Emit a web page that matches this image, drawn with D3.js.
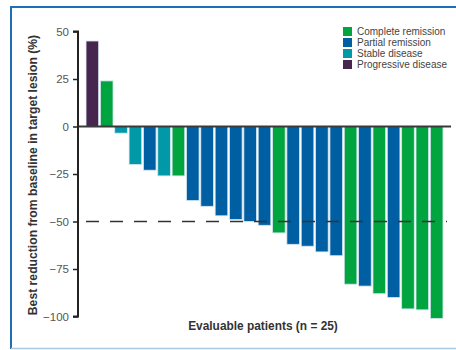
<!DOCTYPE html>
<html>
<head>
<meta charset="utf-8">
<script src="https://cdn.jsdelivr.net/npm/d3@7"></script>
<style>
  html, body { margin: 0; padding: 0; background: #fff; }
  svg { display: block; }
</style>
</head>
<body>
<svg id="chart" width="456" height="350"></svg>
<script>
// Best response per evaluable patient (% change in target lesion)
const patients = d3.range(1, 26).map(String);
const reduction = [45, 24, -3.5, -20, -23, -26, -26, -39, -42, -47, -49, -50, -52, -56,
                   -62, -63, -66, -68, -83, -84, -88, -90, -96, -96.5, -101];
const response = ["PD", "CR", "SD", "SD", "PR", "SD", "CR", "PR", "PR", "PR", "PR", "PR", "PR", "CR",
                  "PR", "PR", "PR", "PR", "CR", "PR", "CR", "PR", "CR", "CR", "CR"];
const responseKeys = ["CR", "PR", "SD", "PD"];
const responseNames = ["Complete remission", "Partial remission", "Stable disease", "Progressive disease"];
const yTicks = [50, 25, 0, -25, -50, -75, -100];
const threshold = -50;

const colour = d3.scaleOrdinal()
  .domain(responseKeys)
  .range(["#00a540", "#005fa3", "#0199a8", "#46264f"]);

const svg = d3.select("#chart");

// figure frame
svg.append("path")
  .attr("d", "M11,349 V7 H460")
  .attr("fill", "none")
  .attr("stroke", "#1f6fb4")
  .attr("stroke-width", 2);
svg.append("line")
  .attr("x1", 11).attr("x2", 460).attr("y1", 348.5).attr("y2", 348.5)
  .attr("stroke", "#a9c9e6").attr("stroke-width", 1.5);

const x = d3.scaleBand()
  .domain(patients)
  .range([78, 451])
  .paddingInner(0.12)
  .paddingOuter(0.56);

const y = d3.scaleLinear()
  .domain([-100, 50])
  .range([316.5, 31.5]);

// bars
svg.append("g")
  .selectAll("rect")
  .data(patients)
  .join("rect")
  .attr("x", (d) => x(d))
  .attr("width", x.bandwidth())
  .attr("y", (d, i) => y(Math.max(0, reduction[i])))
  .attr("height", (d, i) => Math.abs(y(reduction[i]) - y(0)))
  .attr("fill", (d, i) => colour(response[i]))
  .attr("stroke", "#d6e6f0")
  .attr("stroke-width", 0.8);

// zero baseline
svg.append("line")
  .attr("x1", 78).attr("x2", 451)
  .attr("y1", y(0)).attr("y2", y(0))
  .attr("stroke", "#3a3a3a").attr("stroke-width", 2);

// -50% response threshold
svg.append("line")
  .attr("x1", 86).attr("x2", 447)
  .attr("y1", y(threshold)).attr("y2", y(threshold))
  .attr("stroke", "#333").attr("stroke-width", 1.6)
  .attr("stroke-dasharray", "13,11");

// y axis
const yAxis = d3.axisLeft(y)
  .tickValues(yTicks)
  .tickSize(5)
  .tickPadding(4)
  .tickFormat((d) => d < 0 ? "\u2212" + Math.abs(d) : String(d));

const gy = svg.append("g")
  .attr("transform", "translate(78,0)")
  .call(yAxis);
gy.select(".domain")
  .attr("stroke", "#222").attr("stroke-width", 2)
  .attr("d", `M-5,${y(50)}H0V${y(-100)}H-5`);
gy.selectAll(".tick line").attr("stroke", "#222").attr("stroke-width", 1.5);
gy.selectAll(".tick text")
  .attr("fill", "#555")
  .style("font-family", "Liberation Sans, Arial, sans-serif")
  .style("font-size", "11.5px");

// axis titles
svg.append("text")
  .attr("transform", `translate(37,${(y(50) + y(-100)) / 2 + 1}) rotate(-90)`)
  .attr("text-anchor", "middle")
  .attr("fill", "#333")
  .style("font-family", "Liberation Sans, Arial, sans-serif")
  .style("font-size", "12.2px")
  .style("font-weight", "bold")
  .text("Best reduction from baseline in target lesion (%)");

svg.append("text")
  .attr("x", 263).attr("y", 330)
  .attr("text-anchor", "middle")
  .attr("fill", "#333")
  .style("font-family", "Liberation Sans, Arial, sans-serif")
  .style("font-size", "11.9px")
  .style("font-weight", "bold")
  .text("Evaluable patients (n = 25)");

// legend
const legend = svg.append("g").attr("transform", "translate(343,27)");
const item = legend.selectAll("g")
  .data(responseKeys)
  .join("g")
  .attr("transform", (d, i) => `translate(0,${i * 11})`);
item.append("rect")
  .attr("width", 9).attr("height", 9)
  .attr("fill", (d) => colour(d));
item.append("text")
  .attr("x", 14).attr("y", 8)
  .attr("fill", "#444")
  .style("font-family", "Liberation Sans, Arial, sans-serif")
  .style("font-size", "10px")
  .text((d, i) => responseNames[i]);
</script>
</body>
</html>
